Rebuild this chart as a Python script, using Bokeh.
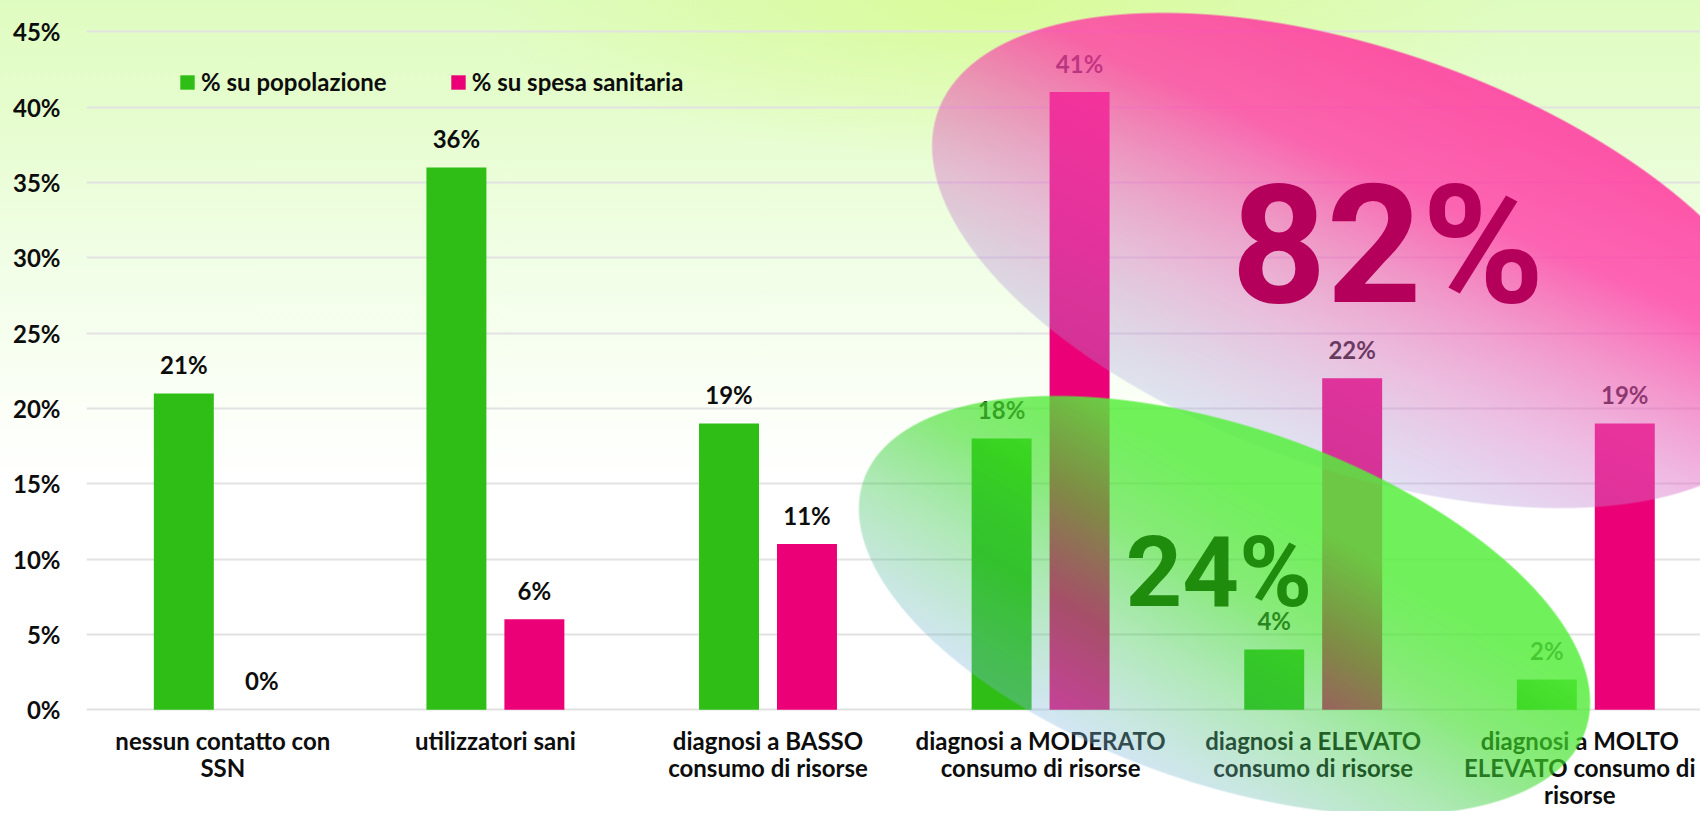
import numpy as np
from bokeh.plotting import figure
from bokeh.models import Range1d, FixedTicker, PrintfTickFormatter, ColumnDataSource
from bokeh.embed import file_html
from bokeh.resources import INLINE
from bokeh.core.properties import value

# ---------------- data ----------------
categories = [
    "nessun contatto con\nSSN",
    "utilizzatori sani",
    "diagnosi a BASSO\nconsumo di risorse",
    "diagnosi a MODERATO\nconsumo di risorse",
    "diagnosi a ELEVATO\nconsumo di risorse",
    "diagnosi a MOLTO\nELEVATO consumo di\nrisorse",
]
pop_pct = [21, 36, 19, 18, 4, 2]          # % su popolazione
spesa_pct = [0, 6, 11, 41, 22, 19]        # % su spesa sanitaria
series_names = ["% su popolazione", "% su spesa sanitaria"]
y_ticks = [0, 5, 10, 15, 20, 25, 30, 35, 40, 45]
big_spesa = "82%"
big_pop = "24%"

# ---------------- styles / geometry ----------------
GREEN = "#2EBE16"
PINK = "#EC0077"
TXT = "#0D0D0D"
FONT = "Lato"
FS = "24px"

W, H = 1700, 811
BORDER_L = 86
PX_L, PX_R, PX_T, PX_B = BORDER_L, W, 0, H
ZERO_PX = 709.2
SY = 15.063
SX = 272.6
X_END = (PX_R - PX_L) / SX
Y_END = ZERO_PX / SY
Y_START = -(PX_B - ZERO_PX) / SY
OFF = 0.143
BAR_W = 0.22

p = figure(width=W, height=H, output_backend="svg", toolbar_location=None,
           x_range=Range1d(0, X_END), y_range=Range1d(Y_START, Y_END),
           x_axis_location=None, min_border_left=BORDER_L, min_border_right=0,
           min_border_top=0, min_border_bottom=0)
p.background_fill_alpha = 0
p.border_fill_alpha = 0
p.outline_line_color = None
p.styles = {"background": (
    "radial-gradient(ellipse 520px 160px at 1000px 0px, rgba(215,250,140,0.75) 0%, rgba(215,250,140,0) 100%),"
    "linear-gradient(180deg, #DFFCC0 0px, #E6FDCF 120px, #F1FEE6 260px, #FAFFF5 390px, #FFFFFF 480px)")}

p.xgrid.visible = False
p.ygrid.ticker = FixedTicker(ticks=y_ticks)
p.ygrid.grid_line_color = "#E2E2E2"
p.ygrid.grid_line_width = 2

ax = p.yaxis[0]
ax.ticker = FixedTicker(ticks=y_ticks)
ax.formatter = PrintfTickFormatter(format="%d%%")
ax.axis_line_color = None
ax.major_tick_line_color = None
ax.minor_tick_line_color = None
ax.major_tick_out = 0
ax.minor_tick_out = 0
ax.major_label_standoff = 26
ax.major_label_text_font = FONT
ax.major_label_text_font_style = "bold"
ax.major_label_text_font_size = FS
ax.major_label_text_color = TXT

idx = np.arange(len(categories)) + 0.5
src = ColumnDataSource(dict(
    xg=idx - OFF, xp=idx + OFF, pop=pop_pct, spesa=spesa_pct,
    tg=[f"{v}%" for v in pop_pct], tp=[f"{v}%" for v in spesa_pct]))

p.vbar(x="xg", top="pop", width=BAR_W, source=src, fill_color=GREEN, line_color=None,
       legend_label=series_names[0])
p.vbar(x="xp", top="spesa", width=BAR_W, source=src, fill_color=PINK, line_color=None,
       legend_label=series_names[1])

for xf, yf, tf in (("xg", "pop", "tg"), ("xp", "spesa", "tp")):
    p.text(x=xf, y=yf, text=tf, source=src, text_align="center", text_baseline="alphabetic",
           y_offset=-29, text_font=value(FONT), text_font_style="bold",
           text_font_size=FS, text_color=TXT)

# category labels (multi-line); the last one is nudged so it stays inside the frame
lx, lxo, lyo, lt = [], [], [], []
for i, c in enumerate(categories):
    for k, line in enumerate(c.split("\n")):
        lx.append(idx[i]); lyo.append(31 + 27 * k); lt.append(line)
        lxo.append(-6 if i == len(categories) - 1 else 0)
p.text(x="x", y=0, text="t", x_offset="xo", y_offset="yo",
       source=ColumnDataSource(dict(x=lx, xo=lxo, yo=lyo, t=lt)),
       text_align="center", text_baseline="alphabetic", text_font=value(FONT),
       text_font_style="bold", text_font_size=FS, text_color=TXT)


# ---------------- gradient ellipses (decorative overlays) ----------------
def ellipse_rgba(cx, cy, a, b, rot_deg, grad_deg, stops):
    th = np.radians(rot_deg)
    ga = np.radians(grad_deg)
    ex = np.sqrt((a * np.cos(th)) ** 2 + (b * np.sin(th)) ** 2)
    ey = np.sqrt((a * np.sin(th)) ** 2 + (b * np.cos(th)) ** 2)
    x0 = max(int(np.floor(cx - ex)) - 1, PX_L)
    x1 = min(int(np.ceil(cx + ex)) + 1, PX_R)
    y0 = max(int(np.floor(cy - ey)) - 1, PX_T)
    y1 = min(int(np.ceil(cy + ey)) + 1, PX_B)
    X, Y = np.meshgrid(np.arange(x0, x1) + 0.5, np.arange(y0, y1) + 0.5)
    dx, dy = X - cx, Y - cy
    u = dx * np.cos(th) + dy * np.sin(th)
    v = -dx * np.sin(th) + dy * np.cos(th)
    rr = np.sqrt((u / a) ** 2 + (v / b) ** 2)
    with np.errstate(all="ignore"):
        g = np.sqrt((u / a ** 2) ** 2 + (v / b ** 2) ** 2) / np.maximum(rr, 1e-9)
        dist = (1 - rr) / np.maximum(g, 1e-9)
    cover = np.clip(dist + 0.5, 0, 1)
    n0, n1 = np.cos(ga), -np.sin(ga)
    proj = dx * n0 + dy * n1
    e1 = n0 * np.cos(th) + n1 * np.sin(th)
    e2 = -n0 * np.sin(th) + n1 * np.cos(th)
    hh = np.sqrt((a * e1) ** 2 + (b * e2) ** 2)
    t = np.clip((proj + hh) / (2 * hh), 0, 1)
    st = np.array(stops, dtype=float)
    R = np.interp(t, st[:, 0], st[:, 1])
    G = np.interp(t, st[:, 0], st[:, 2])
    B = np.interp(t, st[:, 0], st[:, 3])
    A = np.interp(t, st[:, 0], st[:, 4]) * cover
    h, w = X.shape
    img = np.empty((h, w), dtype=np.uint32)
    view = img.view(dtype=np.uint8).reshape((h, w, 4))
    view[:, :, 0] = R.astype(np.uint8)
    view[:, :, 1] = G.astype(np.uint8)
    view[:, :, 2] = B.astype(np.uint8)
    view[:, :, 3] = np.round(A * 255).astype(np.uint8)
    img = np.flipud(img).copy()
    xd = (x0 - PX_L) / SX
    yd = (ZERO_PX - y1) / SY
    return img, xd, yd, (x1 - x0) / SX, (y1 - y0) / SY


pink_stops = [
    (0.00, 158, 165, 222, 0.30),
    (0.30, 220, 112, 200, 0.45),
    (0.50, 240, 84, 180, 0.60),
    (0.70, 255, 62, 166, 0.80),
    (1.00, 255, 59, 160, 0.88),
]
green_stops = [
    (0.00, 132, 184, 226, 0.35),
    (0.30, 60, 200, 80, 0.40),
    (0.55, 63, 223, 40, 0.62),
    (0.80, 85, 238, 59, 0.84),
    (1.00, 85, 238, 59, 0.84),
]

img, xd, yd, dw, dh = ellipse_rgba(1361, 260, 449, 210, 19.3, 66, pink_stops)
p.image_rgba(image=[img], x=xd, y=yd, dw=dw, dh=dh)
img, xd, yd, dw, dh = ellipse_rgba(1224, 605, 382, 178, 19.1, 60, green_stops)
p.image_rgba(image=[img], x=xd, y=yd, dw=dw, dh=dh)

# big highlight numbers
p.text(x=[4.774], y=[26.70], text=[big_spesa], text_align="center", text_baseline="alphabetic",
       y_offset=-62, text_font=value("Roboto"), text_font_style="bold",
       text_font_size="166px", text_color="#B4005A")
p.text(x=[4.154], y=[7.18], text=[big_pop], text_align="center", text_baseline="alphabetic",
       y_offset=-30, text_font=value("Roboto"), text_font_style="bold",
       text_font_size="99px", text_color="#1F8C0E")

lg = p.legend[0]
lg.orientation = "horizontal"
lg.location = (92, 715)
lg.padding = 0
lg.margin = 0
lg.spacing = 62
lg.glyph_width = 18
lg.glyph_height = 18
lg.label_standoff = 5
lg.label_text_font = FONT
lg.label_text_font_style = "bold"
lg.label_text_font_size = FS
lg.label_text_color = TXT
lg.background_fill_alpha = 0
lg.border_line_alpha = 0

open("out.html", "w").write(file_html(p, INLINE))
